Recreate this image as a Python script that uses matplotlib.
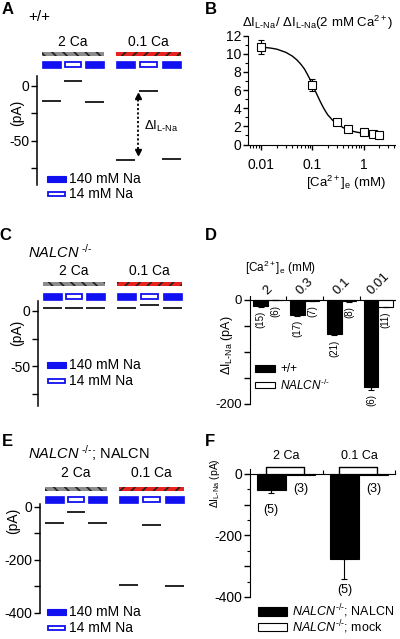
import matplotlib
matplotlib.use('Agg')
import matplotlib.pyplot as plt
from matplotlib.patches import Rectangle
from matplotlib.ticker import MultipleLocator, FuncFormatter, FixedLocator, NullFormatter, NullLocator, LogLocator
import matplotlib.transforms as mtransforms
import numpy as np

plt.rcParams['font.family'] = ['Liberation Sans', 'DejaVu Sans']
plt.rcParams['mathtext.fontset'] = 'custom'
plt.rcParams['mathtext.rm'] = 'Liberation Sans'
plt.rcParams['mathtext.it'] = 'Liberation Sans:italic'
plt.rcParams['mathtext.bf'] = 'Liberation Sans:bold'
plt.rcParams['mathtext.default'] = 'regular'
plt.rcParams['axes.unicode_minus'] = False
plt.rcParams['hatch.linewidth'] = 1.2

# ---------------- data ----------------
# recording protocol (time windows in s) and solutions
t_windows = [(5, 24), (27, 45), (48, 67), (79, 98), (102, 121), (125, 144)]
ca_blocks = ['2 Ca', '0.1 Ca']
na_seq = [140, 14, 140, 140, 14, 140]

# panel A (+/+) current levels (pA)
A_levels = [-14, 4.5, -14.5, -67, -4.5, -66]
# panel C (NALCN-/-)
C_levels = [2.5, 2.5, 2.5, 2.3, 5.5, 2.3]
# panel E (NALCN-/-; NALCN)
E_levels = [-63, -19, -62, -296, -70, -300]

# panel B
B_ca = [0.01, 0.1, 0.3, 0.5, 1, 1.5, 2]
B_ratio = [10.7, 6.55, 2.5, 1.68, 1.4, 1.17, 1.03]
B_err = [0.75, 0.7, 0.2, 0.15, 0.15, 0.1, 0.0]
B_fit_x = [0.01, 0.015, 0.02, 0.03, 0.04, 0.05, 0.06, 0.07, 0.08, 0.09, 0.1,
           0.12, 0.14, 0.16, 0.18, 0.2, 0.25, 0.3, 0.4, 0.5, 0.7, 1.0, 1.3, 1.7]
B_fit_y = [10.72, 10.62, 10.5, 10.15, 9.75, 9.3, 8.8, 8.3, 7.7, 7.15, 6.6,
           5.6, 4.8, 4.15, 3.65, 3.25, 2.65, 2.3, 1.85, 1.6, 1.38, 1.22, 1.15, 1.1]

# panel D
D_ca = ['2', '0.3', '0.1', '0.01']
D_wt = [-12.8, -28.8, -66, -169]
D_wt_err = [1.2, 2, 3, 5]
D_ko = [-1, -2, -3, -13.5]
D_ko_err = [0.5, 0.5, 1, 1.5]
D_wt_n = [15, 17, 21, 6]
D_ko_n = [6, 7, 8, 11]

# panel F
F_groups = ['2 Ca', '0.1 Ca']
F_rescue = [-52, -277]
F_rescue_err = [9, 63]
F_mock = [-3, -3]
F_mock_err = [1, 1]
F_rescue_n = [5, 5]
F_mock_n = [3, 3]

# ---------------- layout helpers ----------------
W, H = 400, 639
fig = plt.figure(figsize=(4.0, 6.39), dpi=100)
BLUE = '#1010f0'
FS = 10
KO = r'$\mathit{NALCN}^{\ \text{-/-}}$'
KO2 = r'$\mathit{NALCN}^{\text{-/-}}$'
DI = r'$\Delta$I$_{\text{L-Na}}$'


def fy(y):
    return 1 - y / H


def add_ax(l, t, r, b):
    return fig.add_axes([l / W, 1 - b / H, (r - l) / W, (b - t) / H])


def ftext(x, y, s, **kw):
    kw.setdefault('ha', 'center')
    kw.setdefault('va', 'center')
    return fig.text(x / W, 1 - y / H, s, **kw)


def frect(x0, y0, x1, y1, **kw):
    r = Rectangle((x0 / W, 1 - y1 / H), (x1 - x0) / W, (y1 - y0) / H,
                  transform=fig.transFigure, **kw)
    fig.add_artist(r)


def na_legend(x0, y_filled, y_open):
    frect(x0, y_filled, x0 + 19, y_filled + 6, fc=BLUE, ec=BLUE, lw=0.8)
    frect(x0 + 0.7, y_open + 0.7, x0 + 18.3, y_open + 5.3, fc='white', ec=BLUE, lw=1.3)
    ftext(x0 + 22, y_filled + 3, '140 mM Na', ha='left', fontsize=FS)
    ftext(x0 + 22, y_open + 3, '14 mM Na', ha='left', fontsize=FS)


def protocol(ax, y_hatch, y_na, y_label):
    tr = mtransforms.blended_transform_factory(ax.transData, fig.transFigure)
    styles = [('#8c8c8c', '\\\\\\'), ('#e8231e', '///')]
    for gi, lab in enumerate(ca_blocks):
        wins = t_windows[gi * 3:(gi + 1) * 3]
        x0, x1 = wins[0][0], wins[-1][1]
        fc, hatch = styles[gi]
        fig.add_artist(Rectangle((x0, fy(y_hatch + 4)), x1 - x0, 4 / H, transform=tr,
                                 fc=fc, ec='#202020', lw=0, hatch=hatch))
        fig.text(((x0 + x1) / 2), fy(y_label), lab, transform=tr, ha='center',
                 va='center', fontsize=FS)
    for (a, b), na in zip(t_windows, na_seq):
        if na == 140:
            fig.add_artist(Rectangle((a, fy(y_na + 7)), b - a, 7 / H, transform=tr,
                                     fc=BLUE, ec=BLUE, lw=0.5))
        else:
            fig.add_artist(Rectangle((a + 0.6, fy(y_na + 6.3)), b - a - 1.2, 5.6 / H,
                                     transform=tr, fc='white', ec=BLUE, lw=1.3))


def trace_axes(ax, levels, ylim, major, label_every):
    for (a, b), lv in zip(t_windows, levels):
        ax.plot([a, b], [lv, lv], color='black', lw=1.2, solid_capstyle='butt')
    ax.set_xlim(0, 150)
    ax.set_ylim(*ylim)
    for s in ['top', 'right', 'bottom']:
        ax.spines[s].set_visible(False)
    ax.spines['left'].set_linewidth(1.1)
    ax.xaxis.set_major_locator(NullLocator())
    ax.yaxis.set_major_locator(MultipleLocator(major))
    ax.yaxis.set_major_formatter(FuncFormatter(
        lambda v, p: ('%d' % round(v)) if abs(v % label_every) < 1e-6 else ''))
    ax.tick_params(axis='y', direction='out', length=4, width=1.0, labelsize=FS, pad=1.5)


# ---------------- Panel A ----------------
axA = add_ax(37, 76, 187, 185)
trace_axes(axA, A_levels, (-90, 9), 25, 50)
protocol(axA, 52, 61, 42)
ftext(8, 10, 'A', fontsize=12, fontweight='bold')
ftext(39, 17, '+/+', fontsize=11)
ftext(17, 113, '(pA)', rotation=90, fontsize=FS)
na_legend(47, 176, 191)
# delta I annotation
t_arrow = 101
axA.plot([t_arrow, t_arrow], [A_levels[4] - 4, A_levels[3] + 8], color='black', lw=1.3, ls=(0, (1.2, 1.2)))
axA.plot([t_arrow], [A_levels[4] - 5], marker='^', color='black', ms=5)
axA.plot([t_arrow], [A_levels[3] + 7], marker='v', color='black', ms=5)
axA.text(t_arrow + 6, -37, DI, fontsize=9.5, ha='left', va='center')

# ---------------- Panel B ----------------
axB = add_ax(248, 35.5, 395, 144.5)
axB.plot(B_fit_x, B_fit_y, color='black', lw=1.0)
axB.errorbar(B_ca, B_ratio, yerr=B_err, fmt='s', ms=5.5, mfc='white', mec='black', mew=0.8,
             ecolor='black', elinewidth=0.8, capsize=2.5, capthick=0.8)
axB.set_xscale('log')
axB.set_xlim(0.0055, 4.1)
axB.set_ylim(0, 12)
for s in ['top', 'right']:
    axB.spines[s].set_visible(False)
axB.xaxis.set_major_locator(FixedLocator([0.01, 0.1, 1]))
axB.xaxis.set_major_formatter(FuncFormatter(lambda v, p: '%g' % v))
axB.xaxis.set_minor_locator(LogLocator(base=10, subs=np.arange(2, 10)))
axB.xaxis.set_minor_formatter(NullFormatter())
axB.yaxis.set_major_locator(MultipleLocator(2))
axB.yaxis.set_minor_locator(MultipleLocator(1))
axB.tick_params(which='major', direction='out', length=3.5, width=1.0, labelsize=FS, pad=1.5)
axB.tick_params(axis='x', which='major', pad=6)
axB.tick_params(which='minor', direction='out', length=2.5, width=0.8)
ftext(211, 10, 'B', fontsize=12, fontweight='bold')
ftext(318, 23, DI + '/ ' + DI + r'(2 mM Ca$^{2+}$)', fontsize=9.5)
ftext(346, 183, r'[Ca$^{2+}$]$_e$ (mM)', fontsize=9.5)

# ---------------- Panel C ----------------
axC = add_ax(38, 301, 188, 406)
trace_axes(axC, C_levels, (-86, 9), 25, 50)
protocol(axC, 282, 293, 271)
ftext(5, 235, 'C', fontsize=12, fontweight='bold')
ftext(28, 252, KO, ha='left', fontsize=10.5)
ftext(17, 333, '(pA)', rotation=90, fontsize=FS)
na_legend(47, 362, 378)

# ---------------- Panel D ----------------
axD = add_ax(249.5, 296, 395, 403.5)
xD = np.arange(len(D_ca))
axD.bar(xD - 0.2, D_wt, 0.4, color='black', edgecolor='black', lw=0.8)
axD.bar(xD + 0.2, D_ko, 0.4, color='white', edgecolor='black', lw=0.8)
axD.errorbar(xD - 0.2, D_wt, yerr=[D_wt_err, [0] * 4], fmt='none', ecolor='black',
             elinewidth=0.8, capsize=2.5, capthick=0.8)
axD.errorbar(xD + 0.2, D_ko, yerr=[D_ko_err, [0] * 4], fmt='none', ecolor='black',
             elinewidth=0.8, capsize=2.5, capthick=0.8)
for i in range(len(D_ca)):
    axD.annotate('(%d)' % D_wt_n[i], (xD[i] - 0.2, D_wt[i] - D_wt_err[i]), xytext=(0, -3),
                 textcoords='offset points', rotation=90, ha='center', va='top', fontsize=7)
    axD.annotate('(%d)' % D_ko_n[i], (xD[i] + 0.2, D_ko[i] - D_ko_err[i]), xytext=(0, -3),
                 textcoords='offset points', rotation=90, ha='center', va='top', fontsize=7)
axD.set_xlim(-0.5, 3.45)
axD.set_ylim(-200, 7)
for s in ['right', 'bottom']:
    axD.spines[s].set_visible(False)
axD.spines['top'].set_position(('data', 0))
axD.xaxis.tick_top()
axD.set_xticks(xD)
axD.set_xticklabels(D_ca, rotation=45, fontsize=9.5)
axD.xaxis.set_minor_locator(FixedLocator([0.5, 1.5, 2.5]))
axD.tick_params(axis='x', which='major', length=0, pad=2)
axD.tick_params(axis='x', which='minor', direction='out', length=3, width=0.8)
axD.yaxis.set_major_locator(MultipleLocator(50))
axD.yaxis.set_major_formatter(FuncFormatter(lambda v, p: ('%d' % round(v)) if abs(v % 200) < 1e-6 else ''))
axD.tick_params(axis='y', direction='out', length=4, width=1.0, labelsize=9.5, pad=1.5)
ftext(211, 235, 'D', fontsize=12, fontweight='bold')
ftext(281, 268, r'[Ca$^{2+}$]$_e$ (mM)', fontsize=8.5)
ftext(227, 345, DI + ' (pA)', rotation=90, fontsize=9)
frect(255, 365, 275, 372, fc='black', ec='black', lw=0.8)
frect(255, 382, 275, 388, fc='white', ec='black', lw=0.8)
ftext(280, 368.5, '+/+', ha='left', fontsize=8.5)
ftext(280, 385, KO2, ha='left', fontsize=8.5)

# ---------------- Panel E ----------------
axE = add_ax(40, 504, 190, 612.5)
trace_axes(axE, E_levels, (-400, 10), 100, 200)
protocol(axE, 487, 496, 473)
ftext(7, 441, 'E', fontsize=12, fontweight='bold')
ftext(28, 453, KO + '; NALCN', ha='left', fontsize=10.5)
ftext(13, 521, '(pA)', rotation=90, fontsize=FS)
na_legend(47, 609, 625)

# ---------------- Panel F ----------------
axF = add_ax(250, 469.3, 395, 597)
xF = np.arange(len(F_groups))
axF.bar(xF - 0.2, F_rescue, 0.4, color='black', edgecolor='black', lw=0.8)
axF.bar(xF + 0.2, F_mock, 0.4, color='white', edgecolor='black', lw=0.8)
axF.errorbar(xF - 0.2, F_rescue, yerr=[F_rescue_err, [0] * 2], fmt='none', ecolor='black',
             elinewidth=0.8, capsize=2.5, capthick=0.8)
F_lab_off = [-8, -4]
for i in range(len(F_groups)):
    axF.annotate('(%d)' % F_rescue_n[i], (xF[i] - 0.2, F_rescue[i] - F_rescue_err[i]),
                 xytext=(0, F_lab_off[i]), textcoords='offset points', ha='center', va='top', fontsize=9)
    axF.annotate('(%d)' % F_mock_n[i], (xF[i] + 0.2, F_mock[i] - F_mock_err[i]),
                 xytext=(0, -6), textcoords='offset points', ha='center', va='top', fontsize=9)
    axF.plot([xF[i] - 0.27, xF[i] - 0.27, xF[i] + 0.25, xF[i] + 0.25], [0, 21, 21, 0],
             color='black', lw=1.0, clip_on=False)
    axF.text(xF[i], 40, F_groups[i], ha='center', va='bottom', fontsize=9)
axF.set_xlim(-0.49, 1.49)
axF.set_ylim(-400, 15)
for s in ['right', 'bottom']:
    axF.spines[s].set_visible(False)
axF.spines['top'].set_position(('data', 0))
axF.xaxis.tick_top()
axF.xaxis.set_major_locator(NullLocator())
axF.xaxis.set_minor_locator(FixedLocator([0.5, 1.49]))
axF.tick_params(axis='x', which='minor', direction='out', length=3, width=0.8)
axF.yaxis.set_major_locator(MultipleLocator(100))
axF.yaxis.set_minor_locator(MultipleLocator(50))
axF.yaxis.set_major_formatter(FuncFormatter(lambda v, p: ('%d' % round(v)) if abs(v % 200) < 1e-6 else ''))
axF.tick_params(axis='y', which='major', direction='out', length=4, width=1.0, labelsize=FS, pad=1.5)
axF.tick_params(axis='y', which='minor', direction='out', length=2.5, width=0.8)
ftext(210, 442, 'F', fontsize=12, fontweight='bold')
ftext(215, 483, DI + ' (pA)', rotation=90, fontsize=7.5)
frect(258, 607, 287, 616, fc='black', ec='black', lw=0.8)
frect(258, 623, 287, 631, fc='white', ec='black', lw=0.8)
ftext(292, 611.5, KO2 + '; NALCN', ha='left', fontsize=9)
ftext(292, 627.5, KO2 + '; mock', ha='left', fontsize=9)

fig.savefig('out.png', dpi=100)
